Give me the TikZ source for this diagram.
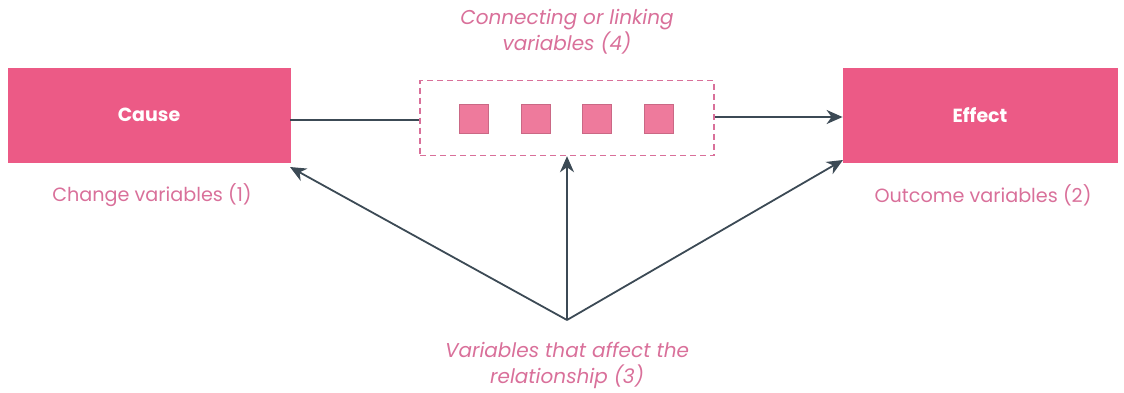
\documentclass[tikz,border=0pt]{standalone}
\usepackage{fontspec}
\setmainfont{Poppins}
\usetikzlibrary{arrows.meta}
\definecolor{boxpink}{HTML}{EC5A86}
\definecolor{txtpink}{HTML}{D9709A}
\definecolor{sqpink}{HTML}{EE7A9C}
\definecolor{arrowc}{HTML}{3C4A55}
\tikzset{
  mainbox/.style={fill=boxpink, draw=boxpink, minimum width=141pt, minimum height=47pt, inner sep=0pt, text=white, font=\bfseries\fontsize{9.5}{11}\selectfont},
  sqbox/.style={fill=sqpink, draw=sqpink!85!black, line width=0.3pt, minimum size=14.5pt, inner sep=0pt},
  linkbox/.style={draw=txtpink, dashed, dash pattern=on 3pt off 2pt, line width=0.7pt, minimum width=147pt, minimum height=37.5pt, inner sep=0pt},
  caption/.style={text=txtpink, font=\fontsize{9.6}{11}\selectfont, align=center},
  icaption/.style={text=txtpink, font=\itshape\fontsize{10}{13}\selectfont, align=center},
  conn/.style={draw=arrowc, line width=0.9pt, -{Stealth[length=8pt,width=7pt,inset=2.5pt]}},
  plain/.style={draw=arrowc, line width=0.9pt}
}
\begin{document}
\begin{tikzpicture}[x=0.5pt,y=-0.5pt]
\useasboundingbox (0,0) rectangle (1124,392);
\node[mainbox] (cause) at (149,115) {Cause};
\node[mainbox, minimum width=137pt] (effect) at (980,115) {Effect};
\node[caption] (c1) at (152,195) {Change variables (1)};
\node[caption] (c2) at (983,195) {Outcome variables (2)};
\node[linkbox] (link) at (567,118) {};
\node[sqbox] (s1) at (474,119) {};
\node[sqbox] (s2) at (536,119) {};
\node[sqbox] (s3) at (597,119) {};
\node[sqbox] (s4) at (659,119) {};
\node[icaption] (c4) at (567,32) {Connecting or linking\\variables (4)};
\node[icaption] (c3) at (567,365) {Variables that affect the\\relationship (3)};
\coordinate (src) at (567,320);
\draw[plain] (cause.east |- 0,120) -- (link.west |- 0,120);
\draw[conn] (link.east |- 0,117) -- (effect.west |- 0,117);
\draw[conn] (src) -- (290,167);
\draw[conn] (src) -- (link.south);
\draw[conn] (src) -- (843,160);
\end{tikzpicture}
\end{document}
